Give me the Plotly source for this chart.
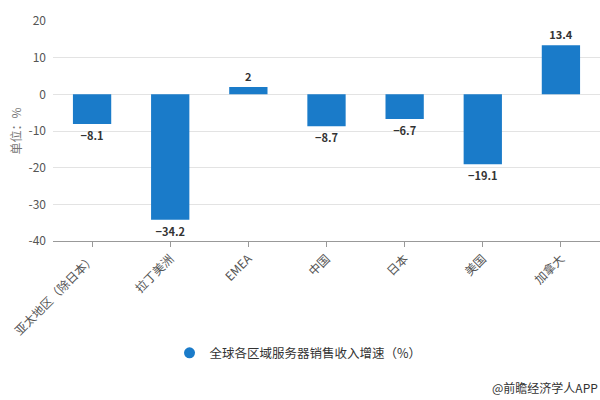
import plotly.graph_objects as go

categories = ["亚太地区（除日本）", "拉丁美洲", "EMEA", "中国", "日本", "美国", "加拿大"]
values = [-8.1, -34.2, 2, -8.7, -6.7, -19.1, 13.4]
series_name = "全球各区域服务器销售收入增速（%）"
y_ticks = [20, 10, 0, -10, -20, -30, -40]

FONT = "Noto Sans CJK SC, Microsoft YaHei, sans-serif"
BLUE = "#1a7bc9"

fig = go.Figure()
fig.add_trace(go.Bar(
    x=categories, y=values,
    marker=dict(color=BLUE, line=dict(width=0)),
    text=[f"{v:g}".replace("-", "−") for v in values],
    textposition="outside",
    textfont=dict(family=FONT, size=11, color="#333333", weight="bold"),
    cliponaxis=False,
    showlegend=False,
    hoverinfo="x+y",
))
fig.add_trace(go.Scatter(
    x=[None], y=[None], mode="markers",
    marker=dict(symbol="circle", size=11, color=BLUE),
    name=series_name, showlegend=True,
))

fig.update_layout(
    width=600, height=400,
    margin=dict(l=53, r=0, t=21, b=159),
    paper_bgcolor="white", plot_bgcolor="white",
    bargap=0.51,
    font=dict(family=FONT, size=12, color="#555555"),
    legend=dict(orientation="h", x=0.213, y=-0.51, xanchor="left", yanchor="middle",
                font=dict(family=FONT, size=12.5, color="#333333"),
                itemsizing="trace"),
    xaxis=dict(
        tickangle=-45, showgrid=False, showline=True, linecolor="#999999",
        ticks="outside", ticklen=5, tickcolor="#999999",
        tickfont=dict(family=FONT, size=12, color="#555555"),
        zeroline=False,
    ),
    yaxis=dict(
        range=[-40, 20], tickvals=y_ticks, ticktext=[str(t) for t in y_ticks],
        showgrid=True, gridcolor="#e3e3e3", gridwidth=1,
        zeroline=True, zerolinecolor="#e3e3e3", zerolinewidth=1,
        showline=False, ticks="", ticklabelstandoff=6,
        tickfont=dict(family=FONT, size=12, color="#555555"),
        title=dict(text="单位：%", font=dict(family=FONT, size=12, color="#777777"), standoff=4),
    ),
    annotations=[dict(
        text="@前瞻经济学人APP", xref="paper", yref="paper",
        x=1.0, y=-0.665, xanchor="right", yanchor="middle", showarrow=False,
        font=dict(family=FONT, size=12, color="#333333"),
    )],
)

fig.write_html("out.html")
